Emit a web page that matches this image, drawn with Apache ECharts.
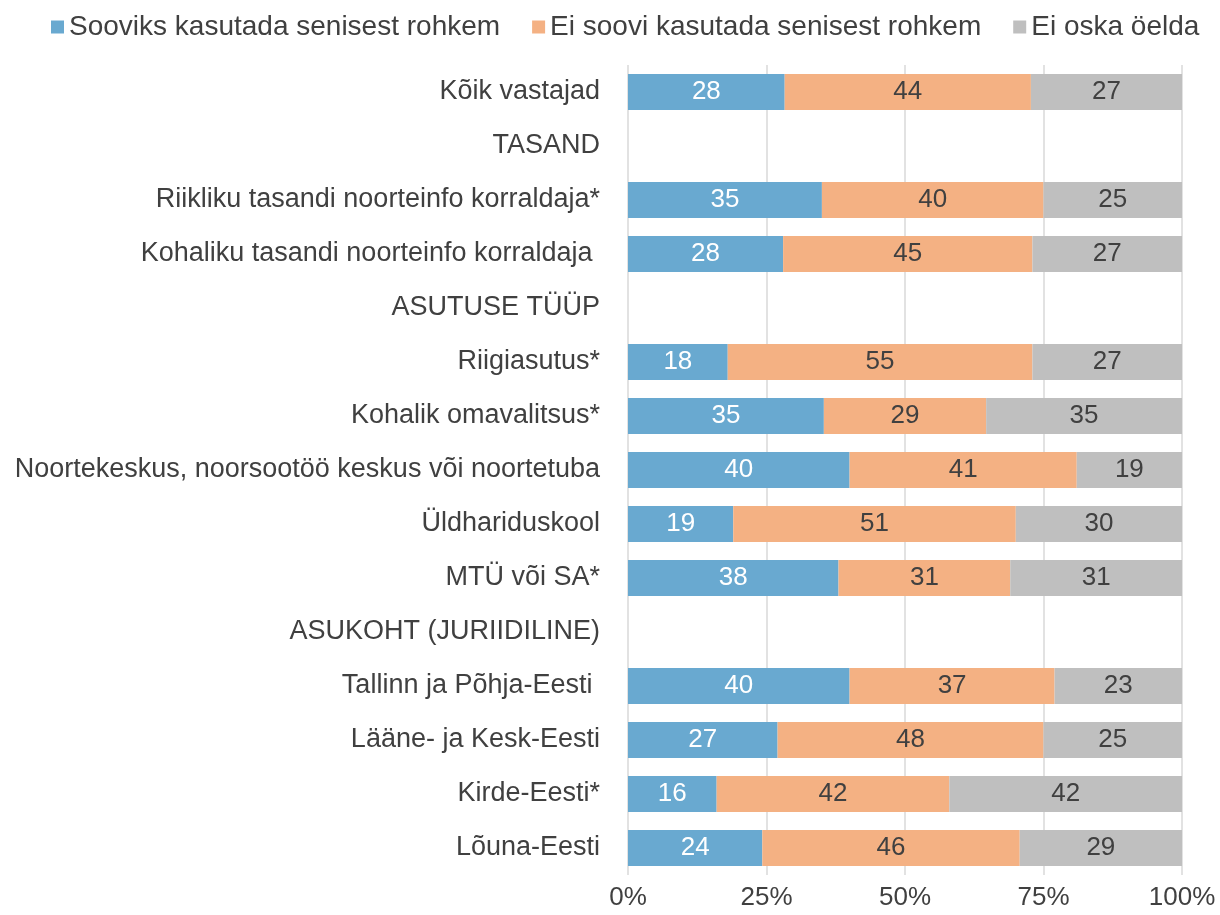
<!DOCTYPE html>
<html>
<head>
<meta charset="utf-8">
<script src="https://cdn.jsdelivr.net/npm/echarts@6/dist/echarts.min.js"></script>
<style>
  html, body { margin: 0; padding: 0; background: #fff; }
  #chart { width: 1220px; height: 915px; }
</style>
</head>
<body>
<div id="chart"></div>
<script>
// categories, top to bottom (group headers have no values)
const categories = [
  'Kõik vastajad',
  'TASAND',
  'Riikliku tasandi noorteinfo korraldaja*',
  'Kohaliku tasandi noorteinfo korraldaja ',
  'ASUTUSE TÜÜP',
  'Riigiasutus*',
  'Kohalik omavalitsus*',
  'Noortekeskus, noorsootöö keskus või noortetuba',
  'Üldhariduskool',
  'MTÜ või SA*',
  'ASUKOHT (JURIIDILINE)',
  'Tallinn ja Põhja-Eesti ',
  'Lääne- ja Kesk-Eesti',
  'Kirde-Eesti*',
  'Lõuna-Eesti'
]
const seriesNames = ['Sooviks kasutada senisest rohkem', 'Ei soovi kasutada senisest rohkem', 'Ei oska öelda']
const wants   = [28, null, 35, 28, null, 18, 35, 40, 19, 38, null, 40, 27, 16, 24]
const doesnt  = [44, null, 40, 45, null, 55, 29, 41, 51, 31, null, 37, 48, 42, 46]
const unsure  = [27, null, 25, 27, null, 27, 35, 19, 30, 31, null, 23, 25, 42, 29]
const xTicks = [0, 25, 50, 75, 100]

const colors = ['#69A9D0', '#F4B183', '#BFBFBF']
const labelColors = ['#ffffff', '#404040', '#404040']

// bars drawn as share of the row total (100% stacked)
const raw = [wants, doesnt, unsure]
const totals = categories.map((_, i) => raw.reduce((s, arr) => s + (arr[i] || 0), 0))

const series = raw.map((arr, k) => ({
  name: seriesNames[k],
  type: 'bar',
  stack: 'total',
  barWidth: 36,
  itemStyle: { color: colors[k] },
  label: {
    show: true,
    position: 'inside',
    color: labelColors[k],
    fontSize: 26,
    fontFamily: 'Liberation Sans',
    formatter: p => raw[k][p.dataIndex]
  },
  data: arr.map((v, i) => v == null ? '-' : v / totals[i] * 100)
}))

const chart = echarts.init(document.getElementById('chart'))
chart.setOption({
  animation: false,
  textStyle: { fontFamily: 'Liberation Sans' },
  legend: {
    top: 8,
    left: 46,
    itemWidth: 13,
    itemHeight: 13,
    itemGap: 32,
    icon: 'rect',
    textStyle: { fontSize: 28, color: '#404040', fontFamily: 'Liberation Sans' },
    data: seriesNames
  },
  grid: { left: 628, right: 38, top: 65, bottom: 40 },
  xAxis: {
    type: 'value',
    min: 0,
    max: 100,
    interval: 25,
    axisLine: { show: false },
    axisTick: { show: false },
    splitLine: { lineStyle: { color: '#D9D9D9', width: 1.5 } },
    axisLabel: {
      fontSize: 26,
      color: '#404040',
      margin: 10,
      formatter: v => xTicks.includes(v) ? v + '%' : ''
    }
  },
  yAxis: {
    type: 'category',
    inverse: true,
    data: categories,
    axisLine: { show: false },
    axisTick: { show: false },
    axisLabel: { fontSize: 27, color: '#404040', margin: 28 }
  },
  series: series
})
</script>
</body>
</html>
